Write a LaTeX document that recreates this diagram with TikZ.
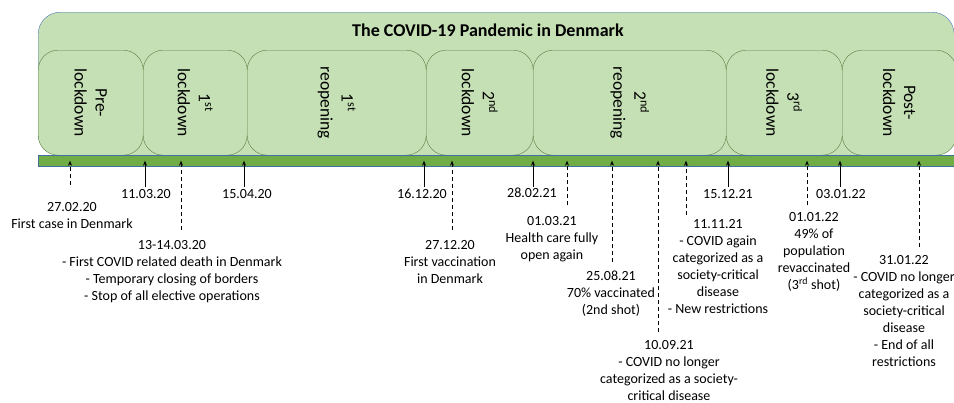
\documentclass[tikz,border=0pt]{standalone}
\usepackage{fontspec}
\setmainfont{Carlito}
\usepackage{xcolor}
\usepackage{tikz}
\usetikzlibrary{arrows.meta}

\definecolor{leafgreen}{HTML}{C5E0B4}
\definecolor{bargreen}{HTML}{70AD47}
\definecolor{framblue}{HTML}{4F74B8}
\definecolor{edgegreen}{HTML}{5A7F42}
\definecolor{baredge}{HTML}{41719C}

\tikzset{
    frame/.style={draw=framblue,fill=leafgreen,rounded corners=22pt,anchor=north west,
        minimum width=916pt,minimum height=143pt,inner sep=0pt},
    phase/.style={draw=edgegreen,fill=leafgreen,rounded corners=20pt,anchor=north west,
        minimum height=105pt,inner sep=0pt},
    phasetext/.style={rotate=-90,align=center,font=\fontsize{17.5}{21}\selectfont},
    bar/.style={draw=baredge,fill=bargreen,anchor=north west,minimum width=920pt,
        minimum height=11pt,inner sep=0pt},
    event/.style={align=center,anchor=north,inner sep=0pt},
    firm/.style={thick,-{Stealth[length=5pt,width=4pt]}},
    loose/.style={thick,dash pattern=on 4pt off 3pt,-{Stealth[length=5pt,width=4pt]}}
}

\begin{document}
\begin{tikzpicture}[x=1pt,y=-1pt,font=\fontsize{14}{17}\selectfont]
        \useasboundingbox (0,0) rectangle (954,402);
        \node[frame] (frame) at (38,12) {};
        \node[font=\bfseries\fontsize{18}{21}\selectfont] (title) at (488,30) {The COVID-19 Pandemic in Denmark};
        \foreach \n/\xa/\xb/\txt in {
            prelock/38/143/{Pre-\\lockdown},
            lockA/143/247/{1\textsuperscript{st}\\lockdown},
            openA/247/426/{1\textsuperscript{st}\\reopening},
            lockB/426/533/{2\textsuperscript{nd}\\lockdown},
            openB/533/726/{2\textsuperscript{nd}\\reopening},
            lockC/726/842/{3\textsuperscript{rd}\\lockdown},
            postlock/842/956/{Post-\\lockdown}} {
            \node[phase,minimum width=\xb pt-\xa pt] (\n) at (\xa,50) {};
            \node[phasetext] (\n-txt) at (\n.center) {\txt};
        }
        \node[bar] (bar) at (38,155) {};
        \foreach \n/\x/\y in {1/70/185,2/145/187,3/181/230,4/244/187,5/424/187,6/452/230,
            7/533/187,8/567/205,9/612/262,10/658/332,11/686/215,12/728/187,13/807/205,
            14/840/187,15/919/247}
            \coordinate (a\n) at (\x,\y);
        \foreach \n in {2,4,5,7,12,14} \draw[firm] (a\n) -- (a\n |- bar.center);
        \foreach \n in {1,3,6,8,9,10,11,13,15} \draw[loose] (a\n) -- (a\n |- bar.center);
        \node[event] (e1) at (72,202) {27.02.20\\First case in Denmark};
        \node[event] (e2) at (146,189) {11.03.20};
        \node[event] (e3) at (172,240) {13-14.03.20\\- First COVID related death in Denmark\\- Temporary closing of borders\\- Stop of all elective operations};
        \node[event] (e4) at (247,189) {15.04.20};
        \node[event] (e5) at (422,189) {16.12.20};
        \node[event] (e6) at (450,240) {27.12.20\\First vaccination\\in Denmark};
        \node[event] (e7) at (532,188) {28.02.21};
        \node[event] (e8) at (552,216) {01.03.21\\Health care fully\\open again};
        \node[event] (e9) at (611,271) {25.08.21\\70\% vaccinated\\(2nd shot)};
        \node[event] (e10) at (669,340) {10.09.21\\- COVID no longer\\categorized as a society-\\critical disease};
        \node[event] (e11) at (718,219) {11.11.21\\- COVID again\\categorized as a\\society-critical\\disease\\- New restrictions};
        \node[event] (e12) at (728,189) {15.12.21};
        \node[event] (e13) at (814,212) {01.01.22\\49\% of\\population\\revaccinated\\(3\textsuperscript{rd} shot)};
        \node[event] (e14) at (841,189) {03.01.22};
        \node[event] (e15) at (904,255) {31.01.22\\- COVID no longer\\categorized as a\\society-critical\\disease\\- End of all\\restrictions};
    \end{tikzpicture}
\end{document}
